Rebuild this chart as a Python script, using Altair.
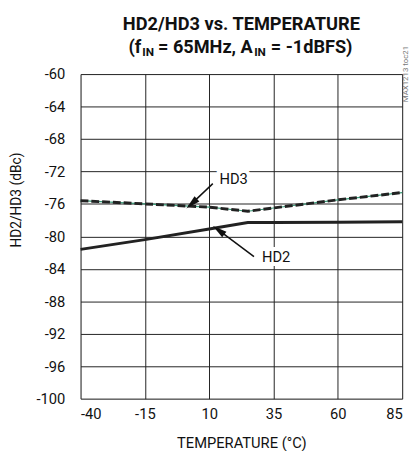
import altair as alt
import pandas as pd

temps = [-40, -15, 10, 25, 35, 60, 85]
hd2 = [-81.6, -80.4, -79.1, -78.3, -78.3, -78.25, -78.2]
hd3 = [-75.6, -76.0, -76.4, -76.9, -76.5, -75.5, -74.6]

x_ticks = [-40, -15, 10, 35, 60, 85]
y_ticks = [-100, -96, -92, -88, -84, -80, -76, -72, -68, -64, -60]

labels = ["HD3", "HD2"]
label_t = [19.5, 36.0]
label_v = [-73.0, -82.6]
arrow_t0 = [11.4, 27.4]
arrow_v0 = [-73.5, -82.5]
arrow_t1 = [3.4, 13.9]
arrow_v1 = [-75.9, -79.3]
arrow_angle = [228, 307]

FONT = "Roboto"
W, H = 328, 331

df = pd.DataFrame({"t": temps, "HD2": hd2, "HD3": hd3})
ann = pd.DataFrame({"label": labels, "t": label_t, "v": label_v,
                    "t0": arrow_t0, "v0": arrow_v0, "t1": arrow_t1, "v1": arrow_v1,
                    "ang": arrow_angle})

xs = alt.Scale(domain=[-40, 85], nice=False, zero=False)
ys = alt.Scale(domain=[-100, -60], nice=False, zero=False)

xax = alt.Axis(values=x_ticks, grid=True, gridColor="#222", gridWidth=1, domain=False, ticks=False,
               labelFont=FONT, labelFontSize=15, labelColor="#111", labelPadding=8,
               labelExpr="toString(datum.value)", labelOverlap=False,
               title="TEMPERATURE (°C)", titleFont=FONT, titleFontSize=15, titleFontWeight="normal",
               titleColor="#111", titleY=50, titleBaseline="alphabetic")
yax = alt.Axis(values=y_ticks, tickCount=11, grid=True, gridColor="#222", gridWidth=1, domain=False, ticks=False,
               labelFont=FONT, labelFontSize=15, labelColor="#111", labelPadding=16,
               labelExpr="toString(datum.value)", labelOverlap=False,
               title="HD2/HD3 (dBc)", titleFont=FONT, titleFontSize=14, titleFontWeight="normal",
               titleColor="#111", titleX=-65, titleY=128, titleAngle=270, titleBaseline="middle",
               titleAlign="center")


def X(f):
    return alt.X(f, scale=xs, axis=xax)


def Y(f):
    return alt.Y(f, scale=ys, axis=yax)


base = alt.Chart(df)

hd2_line = base.mark_line(color="#222", strokeWidth=3).encode(x=X("t:Q"), y=Y("HD2:Q"))
hd3_green = base.mark_line(color="#3a9a78", strokeWidth=1.2).encode(x=X("t:Q"), y=Y("HD3:Q"))
hd3_line = base.mark_line(color="#222", strokeWidth=3, strokeDash=[8, 3]).encode(x=X("t:Q"), y=Y("HD3:Q"))

a = alt.Chart(ann)
arrows = a.mark_rule(color="#111", strokeWidth=1.5).encode(
    x=X("t0:Q"), y=Y("v0:Q"), x2="t1:Q", y2="v1:Q")
heads = a.mark_point(filled=True, color="#111", opacity=1, size=260,
                     shape="M0,-1L0.45,0.8L-0.45,0.8Z").encode(
    x=X("t1:Q"), y=Y("v1:Q"), angle=alt.Angle("ang:Q", scale=None))
halo = a.mark_text(font=FONT, fontSize=15, color="white", stroke="white", strokeWidth=8).encode(
    x=X("t:Q"), y=Y("v:Q"), text="label:N")
txt = a.mark_text(font=FONT, fontSize=15, color="#111").encode(
    x=X("t:Q"), y=Y("v:Q"), text="label:N")

# title pieces
tb = alt.Chart(pd.DataFrame({"a": [0]}))
TF = dict(font=FONT, fontWeight="bold", color="#111", baseline="alphabetic")
t1 = tb.mark_text(text="HD2/HD3 vs. TEMPERATURE", fontSize=18.6, align="center", **TF).encode(
    x=alt.value(W / 2), y=alt.value(-45))
pieces = [("(f", 62, 18.5, -22, "right"), ("IN", 63, 12, -18, "left"), ("= 65MHz, A", 79, 18.5, -22, "left"),
          ("IN", 177, 12, -18, "left"), ("= -1dBFS)", 194, 18.5, -22, "left")]
tparts = [tb.mark_text(text=s, fontSize=fs, align=al, **TF).encode(x=alt.value(px), y=alt.value(py))
          for s, px, fs, py, al in pieces]
code = tb.mark_text(text="MAX1213 toc21", font=FONT, fontSize=8, color="#777", angle=270,
                    align="center", baseline="middle").encode(x=alt.value(332), y=alt.value(0))

chart = alt.layer(hd3_green, hd3_line, hd2_line, arrows, heads, halo, txt, t1, *tparts, code).properties(
    width=W, height=H,
    autosize=alt.AutoSizeParams(type="none"),
    padding={"left": 74, "top": 63, "right": 10, "bottom": 49},
).configure_view(stroke="#000", strokeWidth=3).configure(background="white")

chart.save("out.html", embed_options={"renderer": "svg", "actions": False})
